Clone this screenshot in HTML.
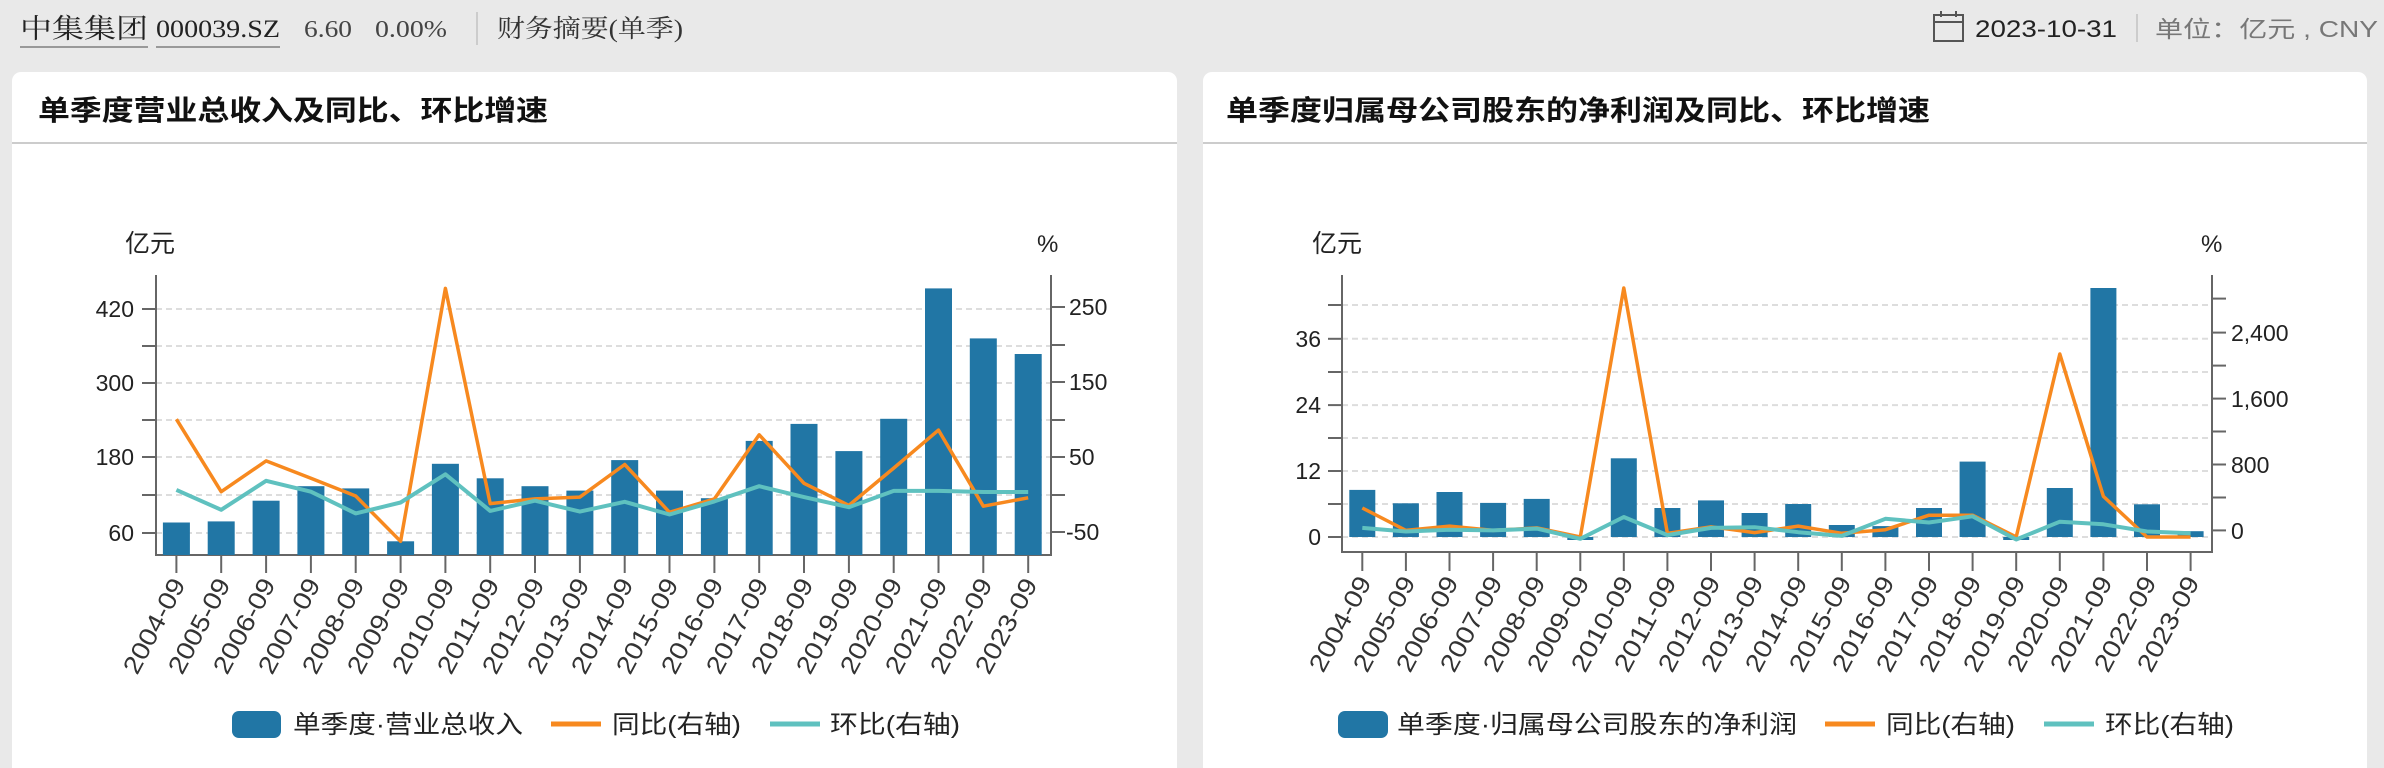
<!DOCTYPE html>
<html><head><meta charset="utf-8"><style>
html,body{margin:0;padding:0;background:#e9e9e9;}
svg{display:block;}
text{font-family:"Liberation Sans","Noto Sans CJK SC",sans-serif;}
.serif{font-family:"Liberation Serif","Noto Serif CJK SC",serif;}
</style></head><body>
<svg width="2384" height="768" viewBox="0 0 2384 768" xmlns="http://www.w3.org/2000/svg">
<rect x="0" y="0" width="2384" height="768" fill="#e9e9e9"/>
<!-- header -->
<text class="serif" x="20" y="38" font-size="27" fill="#222" textLength="128" lengthAdjust="spacingAndGlyphs">中集集团</text>
<line x1="20" y1="47" x2="148" y2="47" stroke="#999" stroke-width="2"/>
<text class="serif" x="156" y="37" font-size="25" fill="#222" textLength="124" lengthAdjust="spacingAndGlyphs">000039.SZ</text>
<line x1="156" y1="47" x2="280" y2="47" stroke="#999" stroke-width="2"/>
<text class="serif" x="304" y="37" font-size="24" fill="#444" textLength="48" lengthAdjust="spacingAndGlyphs">6.60</text>
<text class="serif" x="375" y="37" font-size="24" fill="#444" textLength="72" lengthAdjust="spacingAndGlyphs">0.00%</text>
<line x1="477" y1="12" x2="477" y2="45" stroke="#ccc" stroke-width="2"/>
<text class="serif" x="497" y="37" font-size="25" fill="#333" textLength="186" lengthAdjust="spacingAndGlyphs">财务摘要(单季)</text>
<!-- calendar -->
<rect x="1934" y="15" width="29" height="26" fill="none" stroke="#555" stroke-width="2"/>
<line x1="1934" y1="22" x2="1963" y2="22" stroke="#555" stroke-width="2"/>
<line x1="1941" y1="11" x2="1941" y2="17" stroke="#555" stroke-width="2"/>
<line x1="1956" y1="11" x2="1956" y2="17" stroke="#555" stroke-width="2"/>
<text x="1975" y="37" font-size="24" fill="#222" textLength="142" lengthAdjust="spacingAndGlyphs">2023-10-31</text>
<line x1="2137" y1="14" x2="2137" y2="42" stroke="#ccc" stroke-width="2"/>
<text x="2155" y="37" font-size="23" fill="#777" textLength="223" lengthAdjust="spacingAndGlyphs">单位：亿元 , CNY</text>

<!-- panels -->
<rect x="12" y="72" width="1165" height="720" rx="9" fill="#fff"/>
<rect x="1203" y="72" width="1164" height="720" rx="9" fill="#fff"/>
<text x="38" y="120" font-size="28" font-weight="bold" fill="#111" textLength="510" lengthAdjust="spacingAndGlyphs">单季度营业总收入及同比、环比增速</text>
<text x="1226" y="120" font-size="28" font-weight="bold" fill="#111" textLength="704" lengthAdjust="spacingAndGlyphs">单季度归属母公司股东的净利润及同比、环比增速</text>
<line x1="12" y1="143" x2="1177" y2="143" stroke="#ccc" stroke-width="2"/>
<line x1="1203" y1="143" x2="2367" y2="143" stroke="#ccc" stroke-width="2"/>

<!-- ============ CHART 1 ============ -->
<g stroke="#ddd" stroke-width="2" stroke-dasharray="6,4">
<line x1="156" y1="309" x2="1051" y2="309"/><line x1="156" y1="346" x2="1051" y2="346"/>
<line x1="156" y1="383" x2="1051" y2="383"/><line x1="156" y1="420" x2="1051" y2="420"/>
<line x1="156" y1="457" x2="1051" y2="457"/><line x1="156" y1="495" x2="1051" y2="495"/>
<line x1="156" y1="533" x2="1051" y2="533"/>
</g>
<g stroke="#666" stroke-width="2">
<line x1="156" y1="275" x2="156" y2="556"/>
<line x1="1051" y1="275" x2="1051" y2="556"/>
<line x1="155" y1="555" x2="1052" y2="555"/>
<line x1="142" y1="309" x2="156" y2="309"/><line x1="142" y1="346" x2="156" y2="346"/>
<line x1="142" y1="383" x2="156" y2="383"/><line x1="142" y1="420" x2="156" y2="420"/>
<line x1="142" y1="457" x2="156" y2="457"/><line x1="142" y1="495" x2="156" y2="495"/>
<line x1="142" y1="533" x2="156" y2="533"/>
<line x1="1051" y1="307" x2="1065" y2="307"/><line x1="1051" y1="345" x2="1065" y2="345"/>
<line x1="1051" y1="382" x2="1065" y2="382"/><line x1="1051" y1="420" x2="1065" y2="420"/>
<line x1="1051" y1="457" x2="1065" y2="457"/><line x1="1051" y1="495" x2="1065" y2="495"/>
<line x1="1051" y1="532" x2="1065" y2="532"/>
</g>
<g font-size="23" fill="#222" text-anchor="end">
<text x="134" y="317">420</text><text x="134" y="391">300</text>
<text x="134" y="465">180</text><text x="134" y="541">60</text>
</g>
<g font-size="23" fill="#222">
<text x="1069" y="315">250</text><text x="1069" y="390">150</text>
<text x="1069" y="465">50</text><text x="1066" y="540">-50</text>
</g>
<text x="125" y="252" font-size="25" fill="#222">亿元</text>
<text x="1037" y="252" font-size="24" fill="#222">%</text>
<g fill="#2176a5">
<rect x="162.9" y="522.5" width="27" height="32.5"/>
<rect x="207.7" y="521.4" width="27" height="33.6"/>
<rect x="252.6" y="500.7" width="27" height="54.3"/>
<rect x="297.4" y="486.2" width="27" height="68.8"/>
<rect x="342.2" y="488.4" width="27" height="66.6"/>
<rect x="387.1" y="541.3" width="27" height="13.7"/>
<rect x="431.9" y="463.8" width="27" height="91.2"/>
<rect x="476.7" y="478.3" width="27" height="76.7"/>
<rect x="521.5" y="486.2" width="27" height="68.8"/>
<rect x="566.4" y="490.6" width="27" height="64.4"/>
<rect x="611.2" y="460.1" width="27" height="94.9"/>
<rect x="656.0" y="490.6" width="27" height="64.4"/>
<rect x="700.9" y="498.2" width="27" height="56.8"/>
<rect x="745.7" y="440.9" width="27" height="114.1"/>
<rect x="790.5" y="423.9" width="27" height="131.1"/>
<rect x="835.4" y="451.1" width="27" height="103.9"/>
<rect x="880.2" y="418.8" width="27" height="136.2"/>
<rect x="925.0" y="288.4" width="27" height="266.6"/>
<rect x="969.8" y="338.4" width="27" height="216.6"/>
<rect x="1014.7" y="354" width="27" height="201"/>
</g>
<g stroke="#666" stroke-width="2">
<line x1="176.4" y1="556" x2="176.4" y2="573"/><line x1="221.2" y1="556" x2="221.2" y2="573"/>
<line x1="266.1" y1="556" x2="266.1" y2="573"/><line x1="310.9" y1="556" x2="310.9" y2="573"/>
<line x1="355.7" y1="556" x2="355.7" y2="573"/><line x1="400.6" y1="556" x2="400.6" y2="573"/>
<line x1="445.4" y1="556" x2="445.4" y2="573"/><line x1="490.2" y1="556" x2="490.2" y2="573"/>
<line x1="535.0" y1="556" x2="535.0" y2="573"/><line x1="579.9" y1="556" x2="579.9" y2="573"/>
<line x1="624.7" y1="556" x2="624.7" y2="573"/><line x1="669.5" y1="556" x2="669.5" y2="573"/>
<line x1="714.4" y1="556" x2="714.4" y2="573"/><line x1="759.2" y1="556" x2="759.2" y2="573"/>
<line x1="804.0" y1="556" x2="804.0" y2="573"/><line x1="848.9" y1="556" x2="848.9" y2="573"/>
<line x1="893.7" y1="556" x2="893.7" y2="573"/><line x1="938.5" y1="556" x2="938.5" y2="573"/>
<line x1="983.3" y1="556" x2="983.3" y2="573"/><line x1="1028.2" y1="556" x2="1028.2" y2="573"/>
</g>
<polyline fill="none" stroke="#f7891f" stroke-width="3.5" stroke-linejoin="round" points="176.4,419.2 221.2,491.7 266.1,460.9 310.9,478.3 355.7,496 400.6,541.3 445.4,288.4 490.2,503.6 535,498.9 579.9,497.1 624.7,464.5 669.5,512.3 714.4,498.9 759.2,434.8 804,483.3 848.9,505.4 893.7,468.1 938.5,430.1 983.3,506.2 1028.2,497.8"/>
<polyline fill="none" stroke="#5fc1bf" stroke-width="4" stroke-linejoin="round" points="176.4,489.9 221.2,509.8 266.1,480.8 310.9,491.7 355.7,513.4 400.6,502.5 445.4,474.3 490.2,510.9 535,500.7 579.9,511.6 624.7,501.8 669.5,514.5 714.4,501.4 759.2,486.2 804,497.1 848.9,507.2 893.7,490.9 938.5,490.9 983.3,492 1028.2,492"/>
<g font-size="25" fill="#333" text-anchor="end">
<text transform="translate(186,584) rotate(-62)" textLength="104" lengthAdjust="spacingAndGlyphs">2004-09</text>
<text transform="translate(231,584) rotate(-62)" textLength="104" lengthAdjust="spacingAndGlyphs">2005-09</text>
<text transform="translate(276,584) rotate(-62)" textLength="104" lengthAdjust="spacingAndGlyphs">2006-09</text>
<text transform="translate(321,584) rotate(-62)" textLength="104" lengthAdjust="spacingAndGlyphs">2007-09</text>
<text transform="translate(365,584) rotate(-62)" textLength="104" lengthAdjust="spacingAndGlyphs">2008-09</text>
<text transform="translate(410,584) rotate(-62)" textLength="104" lengthAdjust="spacingAndGlyphs">2009-09</text>
<text transform="translate(455,584) rotate(-62)" textLength="104" lengthAdjust="spacingAndGlyphs">2010-09</text>
<text transform="translate(500,584) rotate(-62)" textLength="104" lengthAdjust="spacingAndGlyphs">2011-09</text>
<text transform="translate(545,584) rotate(-62)" textLength="104" lengthAdjust="spacingAndGlyphs">2012-09</text>
<text transform="translate(590,584) rotate(-62)" textLength="104" lengthAdjust="spacingAndGlyphs">2013-09</text>
<text transform="translate(634,584) rotate(-62)" textLength="104" lengthAdjust="spacingAndGlyphs">2014-09</text>
<text transform="translate(679,584) rotate(-62)" textLength="104" lengthAdjust="spacingAndGlyphs">2015-09</text>
<text transform="translate(724,584) rotate(-62)" textLength="104" lengthAdjust="spacingAndGlyphs">2016-09</text>
<text transform="translate(769,584) rotate(-62)" textLength="104" lengthAdjust="spacingAndGlyphs">2017-09</text>
<text transform="translate(814,584) rotate(-62)" textLength="104" lengthAdjust="spacingAndGlyphs">2018-09</text>
<text transform="translate(859,584) rotate(-62)" textLength="104" lengthAdjust="spacingAndGlyphs">2019-09</text>
<text transform="translate(903,584) rotate(-62)" textLength="104" lengthAdjust="spacingAndGlyphs">2020-09</text>
<text transform="translate(948,584) rotate(-62)" textLength="104" lengthAdjust="spacingAndGlyphs">2021-09</text>
<text transform="translate(993,584) rotate(-62)" textLength="104" lengthAdjust="spacingAndGlyphs">2022-09</text>
<text transform="translate(1038,584) rotate(-62)" textLength="104" lengthAdjust="spacingAndGlyphs">2023-09</text>
</g>
<!-- legend 1 -->
<rect x="232" y="711" width="49" height="27" rx="7" fill="#2176a5"/>
<text x="293" y="733" font-size="25" fill="#222" textLength="230" lengthAdjust="spacingAndGlyphs">单季度·营业总收入</text>
<line x1="551" y1="724" x2="601" y2="724" stroke="#f7891f" stroke-width="5"/>
<text x="612" y="733" font-size="25" fill="#222" textLength="129" lengthAdjust="spacingAndGlyphs">同比(右轴)</text>
<line x1="770" y1="724" x2="820" y2="724" stroke="#5fc1bf" stroke-width="5"/>
<text x="830" y="733" font-size="25" fill="#222" textLength="130" lengthAdjust="spacingAndGlyphs">环比(右轴)</text>

<!-- ============ CHART 2 ============ -->
<g stroke="#ddd" stroke-width="2" stroke-dasharray="6,4">
<line x1="1342" y1="305" x2="2212" y2="305"/><line x1="1342" y1="338.8" x2="2212" y2="338.8"/>
<line x1="1342" y1="372" x2="2212" y2="372"/><line x1="1342" y1="405.1" x2="2212" y2="405.1"/>
<line x1="1342" y1="438" x2="2212" y2="438"/><line x1="1342" y1="471" x2="2212" y2="471"/>
<line x1="1342" y1="504" x2="2212" y2="504"/><line x1="1342" y1="537" x2="2212" y2="537"/>
</g>
<g stroke="#666" stroke-width="2">
<line x1="1342" y1="275" x2="1342" y2="553"/>
<line x1="2212" y1="275" x2="2212" y2="553"/>
<line x1="1341" y1="552" x2="2213" y2="552"/>
<line x1="1328" y1="305" x2="1342" y2="305"/><line x1="1328" y1="338.8" x2="1342" y2="338.8"/>
<line x1="1328" y1="372" x2="1342" y2="372"/><line x1="1328" y1="405.1" x2="1342" y2="405.1"/>
<line x1="1328" y1="438" x2="1342" y2="438"/><line x1="1328" y1="471" x2="1342" y2="471"/>
<line x1="1328" y1="504" x2="1342" y2="504"/><line x1="1328" y1="537" x2="1342" y2="537"/>
<line x1="2212" y1="298.6" x2="2226" y2="298.6"/><line x1="2212" y1="332.6" x2="2226" y2="332.6"/>
<line x1="2212" y1="365.6" x2="2226" y2="365.6"/><line x1="2212" y1="398.6" x2="2226" y2="398.6"/>
<line x1="2212" y1="431.5" x2="2226" y2="431.5"/><line x1="2212" y1="464.5" x2="2226" y2="464.5"/>
<line x1="2212" y1="497.5" x2="2226" y2="497.5"/><line x1="2212" y1="530.4" x2="2226" y2="530.4"/>
</g>
<g font-size="23" fill="#222" text-anchor="end">
<text x="1321" y="347">36</text><text x="1321" y="413">24</text>
<text x="1321" y="479">12</text><text x="1321" y="545">0</text>
</g>
<g font-size="23" fill="#222">
<text x="2231" y="341">2,400</text><text x="2231" y="407">1,600</text>
<text x="2231" y="473">800</text><text x="2231" y="539">0</text>
</g>
<text x="1312" y="252" font-size="25" fill="#222">亿元</text>
<text x="2201" y="252" font-size="24" fill="#222">%</text>
<g fill="#2176a5">
<rect x="1349.3" y="489.9" width="26" height="47.1"/>
<rect x="1392.9" y="503.3" width="26" height="33.7"/>
<rect x="1436.5" y="492" width="26" height="45"/>
<rect x="1480.1" y="502.9" width="26" height="34.1"/>
<rect x="1523.7" y="498.9" width="26" height="38.1"/>
<rect x="1567.3" y="537" width="26" height="3"/>
<rect x="1610.8" y="458.3" width="26" height="78.7"/>
<rect x="1654.4" y="508" width="26" height="29"/>
<rect x="1698.0" y="500.4" width="26" height="36.6"/>
<rect x="1741.6" y="513" width="26" height="24"/>
<rect x="1785.2" y="504" width="26" height="33"/>
<rect x="1828.8" y="525" width="26" height="12"/>
<rect x="1872.4" y="526.1" width="26" height="10.9"/>
<rect x="1916.0" y="508" width="26" height="29"/>
<rect x="1959.6" y="461.6" width="26" height="75.4"/>
<rect x="2003.2" y="537" width="26" height="3"/>
<rect x="2046.8" y="488" width="26" height="49"/>
<rect x="2090.4" y="288" width="26" height="249"/>
<rect x="2134.0" y="504.3" width="26" height="32.7"/>
<rect x="2177.6" y="531.2" width="26" height="5.8"/>
</g>
<g stroke="#666" stroke-width="2">
<line x1="1362.3" y1="553" x2="1362.3" y2="571"/><line x1="1405.9" y1="553" x2="1405.9" y2="571"/>
<line x1="1449.5" y1="553" x2="1449.5" y2="571"/><line x1="1493.1" y1="553" x2="1493.1" y2="571"/>
<line x1="1536.7" y1="553" x2="1536.7" y2="571"/><line x1="1580.3" y1="553" x2="1580.3" y2="571"/>
<line x1="1623.8" y1="553" x2="1623.8" y2="571"/><line x1="1667.4" y1="553" x2="1667.4" y2="571"/>
<line x1="1711.0" y1="553" x2="1711.0" y2="571"/><line x1="1754.6" y1="553" x2="1754.6" y2="571"/>
<line x1="1798.2" y1="553" x2="1798.2" y2="571"/><line x1="1841.8" y1="553" x2="1841.8" y2="571"/>
<line x1="1885.4" y1="553" x2="1885.4" y2="571"/><line x1="1929.0" y1="553" x2="1929.0" y2="571"/>
<line x1="1972.6" y1="553" x2="1972.6" y2="571"/><line x1="2016.2" y1="553" x2="2016.2" y2="571"/>
<line x1="2059.8" y1="553" x2="2059.8" y2="571"/><line x1="2103.4" y1="553" x2="2103.4" y2="571"/>
<line x1="2147.0" y1="553" x2="2147.0" y2="571"/><line x1="2190.6" y1="553" x2="2190.6" y2="571"/>
</g>
<polyline fill="none" stroke="#f7891f" stroke-width="3.5" stroke-linejoin="round" points="1362.3,508 1405.9,530.4 1449.5,526.1 1493.1,530.4 1536.7,527.9 1580.3,537 1623.8,288 1667.4,533.3 1711,526.8 1754.6,532.6 1798.2,526.1 1841.8,533.3 1885.4,529.7 1929,515.2 1972.6,515.2 2016.2,537 2059.8,354 2103.4,496.4 2147,537 2190.6,537"/>
<polyline fill="none" stroke="#5fc1bf" stroke-width="4" stroke-linejoin="round" points="1362.3,527.9 1405.9,531.5 1449.5,529.7 1493.1,530.4 1536.7,528.6 1580.3,538.8 1623.8,517 1667.4,535.1 1711,527.9 1754.6,527.2 1798.2,532.2 1841.8,535.9 1885.4,518.8 1929,522.5 1972.6,516.3 2016.2,539.5 2059.8,521.7 2103.4,524.3 2147,531.5 2190.6,533.3"/>
<g font-size="25" fill="#333" text-anchor="end">
<text transform="translate(1372,582) rotate(-62)" textLength="104" lengthAdjust="spacingAndGlyphs">2004-09</text>
<text transform="translate(1416,582) rotate(-62)" textLength="104" lengthAdjust="spacingAndGlyphs">2005-09</text>
<text transform="translate(1459,582) rotate(-62)" textLength="104" lengthAdjust="spacingAndGlyphs">2006-09</text>
<text transform="translate(1503,582) rotate(-62)" textLength="104" lengthAdjust="spacingAndGlyphs">2007-09</text>
<text transform="translate(1546,582) rotate(-62)" textLength="104" lengthAdjust="spacingAndGlyphs">2008-09</text>
<text transform="translate(1590,582) rotate(-62)" textLength="104" lengthAdjust="spacingAndGlyphs">2009-09</text>
<text transform="translate(1634,582) rotate(-62)" textLength="104" lengthAdjust="spacingAndGlyphs">2010-09</text>
<text transform="translate(1677,582) rotate(-62)" textLength="104" lengthAdjust="spacingAndGlyphs">2011-09</text>
<text transform="translate(1721,582) rotate(-62)" textLength="104" lengthAdjust="spacingAndGlyphs">2012-09</text>
<text transform="translate(1764,582) rotate(-62)" textLength="104" lengthAdjust="spacingAndGlyphs">2013-09</text>
<text transform="translate(1808,582) rotate(-62)" textLength="104" lengthAdjust="spacingAndGlyphs">2014-09</text>
<text transform="translate(1852,582) rotate(-62)" textLength="104" lengthAdjust="spacingAndGlyphs">2015-09</text>
<text transform="translate(1895,582) rotate(-62)" textLength="104" lengthAdjust="spacingAndGlyphs">2016-09</text>
<text transform="translate(1939,582) rotate(-62)" textLength="104" lengthAdjust="spacingAndGlyphs">2017-09</text>
<text transform="translate(1982,582) rotate(-62)" textLength="104" lengthAdjust="spacingAndGlyphs">2018-09</text>
<text transform="translate(2026,582) rotate(-62)" textLength="104" lengthAdjust="spacingAndGlyphs">2019-09</text>
<text transform="translate(2070,582) rotate(-62)" textLength="104" lengthAdjust="spacingAndGlyphs">2020-09</text>
<text transform="translate(2113,582) rotate(-62)" textLength="104" lengthAdjust="spacingAndGlyphs">2021-09</text>
<text transform="translate(2157,582) rotate(-62)" textLength="104" lengthAdjust="spacingAndGlyphs">2022-09</text>
<text transform="translate(2200,582) rotate(-62)" textLength="104" lengthAdjust="spacingAndGlyphs">2023-09</text>
</g>
<!-- legend 2 -->
<rect x="1338" y="711" width="50" height="27" rx="7" fill="#2176a5"/>
<text x="1397" y="733" font-size="25" fill="#222" textLength="400" lengthAdjust="spacingAndGlyphs">单季度·归属母公司股东的净利润</text>
<line x1="1825" y1="724" x2="1875" y2="724" stroke="#f7891f" stroke-width="5"/>
<text x="1886" y="733" font-size="25" fill="#222" textLength="129" lengthAdjust="spacingAndGlyphs">同比(右轴)</text>
<line x1="2044" y1="724" x2="2094" y2="724" stroke="#5fc1bf" stroke-width="5"/>
<text x="2105" y="733" font-size="25" fill="#222" textLength="129" lengthAdjust="spacingAndGlyphs">环比(右轴)</text>
</svg>
</body></html>
